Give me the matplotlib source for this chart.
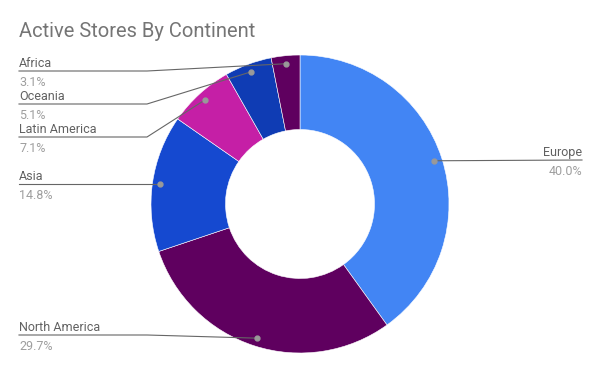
import numpy as np
import matplotlib
matplotlib.use('Agg')
import matplotlib.pyplot as plt

plt.rcParams['font.family'] = ['Roboto', 'DejaVu Sans']

continents = ['Europe', 'North America', 'Asia', 'Latin America', 'Oceania', 'Africa']
shares = [40.0, 29.7, 14.8, 7.1, 5.1, 3.1]
pct_labels = ['40.0%', '29.7%', '14.8%', '7.1%', '5.1%', '3.1%']
colors = ['#4285f4', '#5f005f', '#1549d0', '#c51fa6', '#0f3cb4', '#5f005f']

W, H = 600, 371
cx, cy, R = 300, 204, 149

# label line heights (pixels from top)
label_y = {'Europe': 160, 'North America': 335, 'Asia': 184,
           'Latin America': 137, 'Oceania': 104, 'Africa': 71}
knee_x = 147


def fy(y):
    return H - y


fig = plt.figure(figsize=(6, 3.71), dpi=100)
ax = fig.add_axes([0, 0, 1, 1])
wedges, _ = ax.pie(shares, colors=colors, startangle=90, counterclock=False,
                   center=(cx, fy(cy)), radius=R,
                   wedgeprops=dict(width=R * 0.5, edgecolor='white', linewidth=0.4))
ax.set_xlim(0, W)
ax.set_ylim(0, H)
ax.set_aspect('equal')
ax.axis('off')

ax.text(19, fy(37), 'Active Stores By Continent', fontsize=14.5, color='#757575',
        va='baseline', ha='left')

for w, name, pct in zip(wedges, continents, pct_labels):
    ang = np.deg2rad((w.theta1 + w.theta2) / 2)
    px = cx + 0.946 * R * np.cos(ang)
    py = fy(cy) + 0.946 * R * np.sin(ang)
    ly = fy(label_y[name])
    if px > cx:
        xs = [px, 582]
        ys = [py, ly]
        tx, ha = 582, 'right'
    else:
        if abs(py - ly) > 3:
            xs = [19, knee_x, px]
            ys = [ly, ly, py]
        else:
            xs = [19, px]
            ys = [ly, ly]
        tx, ha = 19, 'left'
    ax.plot(xs, ys, color='#666666', lw=0.8, zorder=3)
    ax.plot([px], [py], 'o', color='#999999', ms=3.5, zorder=4)
    ax.text(tx, ly + 4, name, fontsize=9, color='#616161', ha=ha, va='baseline')
    ax.text(tx, ly - 5, pct, fontsize=9, color='#9e9e9e', ha=ha, va='top')

fig.savefig('out.png', dpi=100)
